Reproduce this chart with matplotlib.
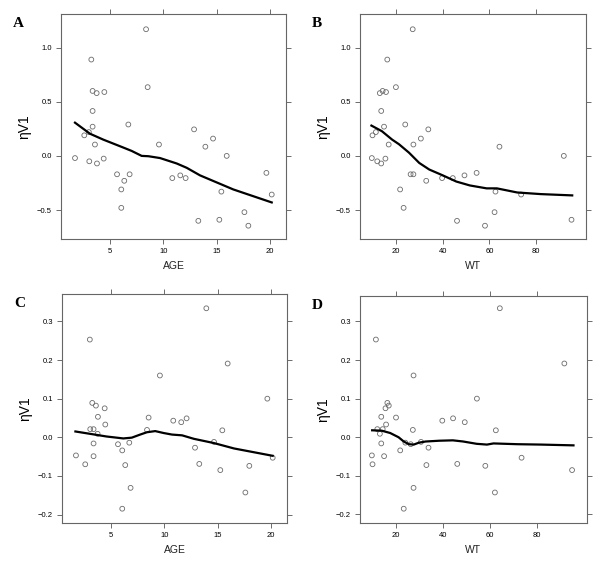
import numpy as np
import matplotlib
matplotlib.use("Agg")
import matplotlib.pyplot as plt

# one row per subject
age = [1.72, 2.59, 3.25, 3.06, 3.37, 3.37, 3.37, 3.75, 3.59, 3.78, 4.47, 4.41,
       5.66, 6.06, 6.34, 6.06, 6.72, 6.84, 8.38, 8.53, 9.59, 10.84, 11.59, 12.09,
       12.88, 13.28, 13.94, 14.66, 15.44, 15.25, 15.94, 17.6, 17.97, 19.66, 20.16, 3.02]
wt = [9.57, 9.86, 16.2, 11.9, 14.2, 13.6, 14.8, 13.0, 16.8, 13.6, 15.65, 15.4,
      26.2, 21.7, 32.9, 23.2, 23.9, 27.4, 27.1, 19.9, 27.4, 39.7, 49.3, 44.3,
      33.8, 46.1, 64.3, 30.6, 62.6, 95.2, 91.9, 62.2, 58.1, 54.5, 73.6, 11.3]
eta_top = [-0.02, 0.19, 0.89, -0.05, 0.60, 0.415, 0.27, 0.58, 0.105, -0.07, 0.59, -0.025,
           -0.17, -0.31, -0.23, -0.48, 0.29, -0.17, 1.17, 0.635, 0.105, -0.205, -0.18, -0.205,
           0.245, -0.60, 0.085, 0.16, -0.33, -0.59, 0.0, -0.52, -0.645, -0.157, -0.357, 0.22]
eta_bot = [-0.047, -0.070, 0.089, 0.021, 0.021, -0.016, -0.049, 0.009, 0.082, 0.053, 0.033, 0.075,
           -0.018, -0.034, -0.072, -0.185, -0.014, -0.131, 0.019, 0.051, 0.160, 0.043, 0.039, 0.049,
           -0.027, -0.069, 0.334, -0.012, 0.018, -0.085, 0.191, -0.143, -0.074, 0.100, -0.053, 0.253]

# smooth curves
smA_x = [1.72, 3.12, 4.38, 6.25, 7.03, 7.97, 8.6, 9.69, 11.25, 12.19, 13.44, 16.56, 20.16]
smA_y = [0.307, 0.205, 0.15, 0.077, 0.046, 0.0, -0.003, -0.02, -0.07, -0.11, -0.18, -0.31, -0.43]
smB_x = [9.4, 13.9, 18.3, 21.2, 25.5, 29.9, 34.2, 40, 45.8, 51.6, 58.8, 63.2, 71.9, 82, 95.5]
smB_y = [0.28, 0.228, 0.15, 0.108, 0.03, -0.065, -0.126, -0.18, -0.237, -0.273, -0.30, -0.30,
         -0.338, -0.353, -0.365]
smC_x = [1.67, 3.02, 4.59, 6.16, 6.95, 7.74, 8.37, 9.15, 9.94, 10.72, 11.67, 12.77, 14.65, 16.54, 20.16]
smC_y = [0.015, 0.009, 0.002, -0.003, -0.001, 0.007, 0.013, 0.016, 0.011, 0.007, 0.005, -0.004,
         -0.015, -0.029, -0.048]
smD_x = [9.7, 13.8, 17.4, 21.0, 23.2, 25.4, 27.5, 29.7, 32.6, 38.4, 44.2, 48.6, 54.4, 58.8, 61.6,
         71.8, 82, 95.8]
smD_y = [0.018, 0.017, 0.011, 0.0, -0.011, -0.018, -0.019, -0.014, -0.011, -0.009, -0.008, -0.011,
         -0.017, -0.019, -0.016, -0.018, -0.019, -0.021]

age_ticks = [5, 10, 15, 20]
wt_ticks = [20, 40, 60, 80]
top_yticks = [-0.5, 0.0, 0.5, 1.0]
bot_yticks = [-0.2, -0.1, 0.0, 0.1, 0.2, 0.3]

plt.rcParams['font.family'] = ['Liberation Sans', 'DejaVu Sans']

fig = plt.figure(figsize=(6, 5.64), dpi=100)

panels = [
    ("A", [0.1017, 0.5762, 0.375, 0.399], age, eta_top, smA_x, smA_y, "AGE", age_ticks, top_yticks, (0.41, 21.5), (-0.768, 1.311), "%.1f"),
    ("B", [0.600, 0.5762, 0.377, 0.399], wt, eta_top, smB_x, smB_y, "WT", wt_ticks, top_yticks, (4.5, 101.5), (-0.768, 1.311), "%.1f"),
    ("C", [0.1033, 0.0727, 0.375, 0.406], age, eta_bot, smC_x, smC_y, "AGE", age_ticks, bot_yticks, (0.41, 21.5), (-0.222, 0.371), "%.1f"),
    ("D", [0.600, 0.0727, 0.378, 0.402], wt, eta_bot, smD_x, smD_y, "WT", wt_ticks, bot_yticks, (4.5, 101.5), (-0.222, 0.365), "%.1f"),
]

for letter, pos, xv, yv, sx, sy, xlab, xt, yt, xl, yl, fmt in panels:
    ax = fig.add_axes(pos)
    ax.scatter(xv, yv, s=12, facecolors='none', edgecolors='#6b6b6b', linewidths=0.6, zorder=2)
    ax.plot(sx, sy, color='black', linewidth=1.6, zorder=3)
    ax.set_xlim(*xl)
    ax.set_ylim(*yl)
    ax.set_xticks(xt)
    ax.set_yticks(yt)
    ax.set_yticklabels([(fmt % v).replace('-', '\u2212') for v in yt])
    ax.tick_params(direction='out', length=3.5, width=0.6, color='#555555', labelsize=5.5,
                   top=True, right=True, pad=3)
    for sp in ax.spines.values():
        sp.set_color('#666666')
        sp.set_linewidth(0.8)
    ax.set_xlabel(xlab, fontsize=7.5, color='#222222', labelpad=4)
    ax.set_ylabel("\u03b7V1", fontsize=10, labelpad=4)
    fig.text(pos[0] - 0.08, pos[1] + pos[3] - 0.005, letter, fontsize=11, fontweight='bold',
             family='Liberation Serif', va='top', ha='left')

fig.savefig("out.png", dpi=100)
